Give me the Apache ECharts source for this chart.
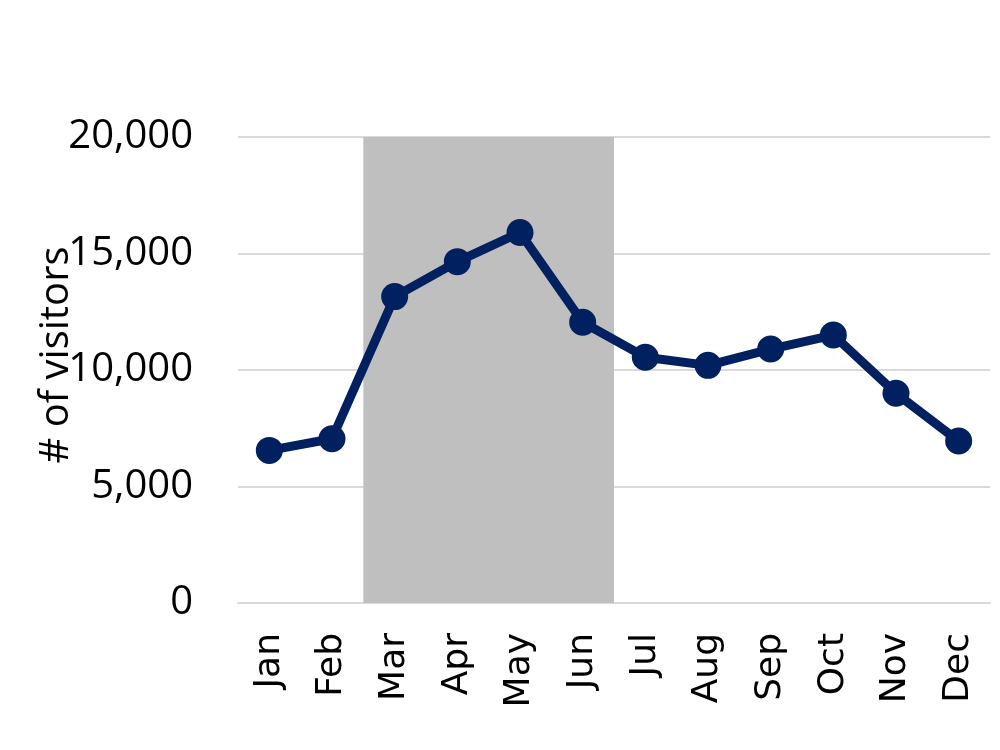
<!DOCTYPE html>
<html>
<head>
<meta charset="utf-8">
<script src="https://cdn.jsdelivr.net/npm/echarts@6/dist/echarts.min.js"></script>
<style>
html,body{margin:0;padding:0;background:#fff;}
#chart{width:1000px;height:750px;}
</style>
</head>
<body>
<div id="chart"></div>
<script>
var months = ['Jan','Feb','Mar','Apr','May','Jun','Jul','Aug','Sep','Oct','Nov','Dec'];
var visitors = [6550, 7050, 13150, 14650, 15900, 12050, 10550, 10200, 10900, 11500, 9000, 6950];
var highlightStart = 'Mar';
var highlightEnd = 'Jun';
var yTicks = [0, 5000, 10000, 15000, 20000];
var yAxisName = '# of visitors';

var yMin = yTicks[0];
var yMax = yTicks[yTicks.length - 1];

var chart = echarts.init(document.getElementById('chart'), null, {renderer: 'canvas'});
chart.setOption({
  animation: false,
  backgroundColor: '#ffffff',
  grid: {left: 238, right: 10, top: 137, bottom: 147, containLabel: false},
  xAxis: {
    type: 'category',
    data: months,
    boundaryGap: true,
    axisLine: {show: true, lineStyle: {color: '#d9d9d9', width: 2}},
    axisTick: {show: false},
    axisLabel: {rotate: 90, margin: 30, color: '#000', fontFamily: 'DejaVu Sans', fontSize: 36}
  },
  yAxis: {
    type: 'value',
    min: yMin,
    max: yMax,
    interval: yTicks[1] - yTicks[0],
    name: yAxisName,
    nameLocation: 'middle',
    nameGap: 161,
    nameMoveOverlap: false,
    nameTextStyle: {color: '#000', fontFamily: 'Open Sans', fontSize: 40, padding: [0, 0, 0, 30]},
    axisLine: {show: false},
    axisTick: {show: false},
    axisLabel: {
      margin: 45, color: '#000', fontFamily: 'Open Sans', fontSize: 40,
      formatter: function (v) { return v.toLocaleString('en-US'); }
    },
    splitLine: {show: true, lineStyle: {color: '#d9d9d9', width: 2}}
  },
  series: [
    {
      type: 'custom',
      silent: true,
      z: 1,
      data: [[months.indexOf(highlightStart), months.indexOf(highlightEnd)]],
      encode: {x: [0, 1]},
      renderItem: function (params, api) {
        var s = api.value(0), e = api.value(1);
        var bw = api.size([1, 0])[0];
        var p0 = api.coord([s, yMax]);
        var p1 = api.coord([e, yMin]);
        return {
          type: 'rect',
          shape: {x: p0[0] - bw / 2, y: p0[1], width: p1[0] - p0[0] + bw, height: p1[1] - p0[1]},
          style: {fill: '#bfbfbf'}
        };
      }
    },
    {
      type: 'line',
      data: visitors,
      symbol: 'circle',
      symbolSize: 27,
      lineStyle: {color: '#002060', width: 9},
      itemStyle: {color: '#002060'},
      z: 5
    }
  ]
});
</script>
</body>
</html>
